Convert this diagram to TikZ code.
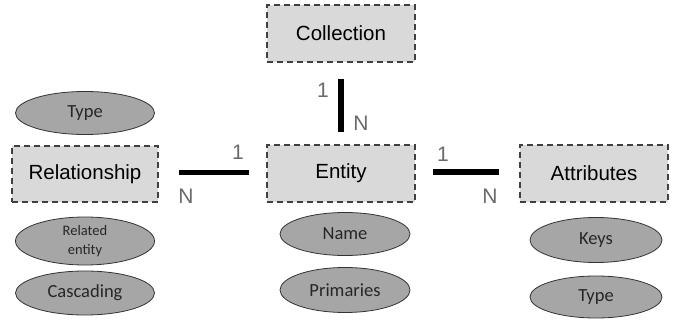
\documentclass[tikz,border=0pt]{standalone}
\usepackage{fontspec}
\setmainfont{Liberation Sans}
\newfontfamily\calfont{Carlito}
\usetikzlibrary{shapes.geometric}
\definecolor{boxfill}{HTML}{D9D9D9}
\definecolor{ellfill}{HTML}{A6A6A6}
\definecolor{lblgray}{HTML}{6A6A6A}
\definecolor{edge}{HTML}{404040}
\tikzset{
  ent/.style={draw=edge, line width=1.1pt, dash pattern=on 6pt off 4pt, fill=boxfill,
    minimum width=148pt, minimum height=57pt, inner sep=0pt, font=\fontsize{20.5}{24}\selectfont},
  attr/.style={ellipse, draw=black!80, line width=0.8pt, fill=ellfill, inner sep=0pt,
    text=black!85, font=\calfont\fontsize{18.5}{22}\selectfont},
  card/.style={text=lblgray, inner sep=0pt, font=\fontsize{21}{24}\selectfont},
  link/.style={line width=5.5pt}
}
\begin{document}
\begin{tikzpicture}[x=1pt,y=-1pt]
\useasboundingbox (0,0) rectangle (678,326);
% boxes
\node[ent] (coll) at (341,33.5) {Collection};
\node[ent, minimum width=146pt, minimum height=56pt] (rel) at (85,174) {Relationship};
\node[ent] (ent) at (341,173.5) {Entity};
\node[ent] (att) at (594,173.5) {Attributes};
% ellipses
\node[attr, minimum width=139pt, minimum height=43pt] (rtype) at (85,113) {Type};
\node[attr, minimum width=139pt, minimum height=48pt, align=center,
      font=\calfont\fontsize{14.5}{19}\selectfont] (relent) at (85,241) {Related\\entity};
\node[attr, minimum width=139pt, minimum height=44pt] (casc) at (85,293) {Cascading};
\node[attr, minimum width=130pt, minimum height=43pt] (name) at (345,234) {Name};
\node[attr, minimum width=130pt, minimum height=45pt] (prim) at (345,290) {Primaries};
\node[attr, minimum width=132pt, minimum height=45pt] (keys) at (596,240) {Keys};
\node[attr, minimum width=132pt, minimum height=42pt] (atype) at (596,297) {Type};
% connectors
\coordinate (c1) at (341,79);
\coordinate (c2) at (341,132);
\coordinate (r1) at (179,172.5);
\coordinate (r2) at (249,172.5);
\coordinate (a1) at (433,172);
\coordinate (a2) at (499,172);
\draw[link] (c1) -- (c2);
\draw[link] (r1) -- (r2);
\draw[link] (a1) -- (a2);
% cardinalities
\node[card] (c1one) at (323,90.5) {1};
\node[card] (c1n) at (361,123.5) {N};
\node[card] (r1one) at (238,152.5) {1};
\node[card] (r1n) at (186,196) {N};
\node[card] (a1one) at (443,154) {1};
\node[card] (a1n) at (490,196) {N};
\end{tikzpicture}
\end{document}
